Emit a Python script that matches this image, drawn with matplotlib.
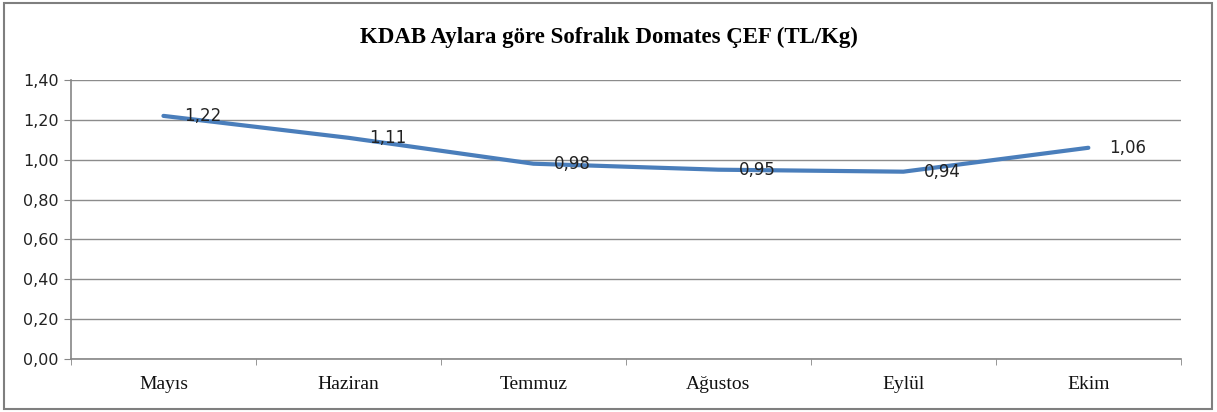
import matplotlib
matplotlib.use("Agg")
import matplotlib.pyplot as plt
from matplotlib.patches import Rectangle
import numpy as np

# data
months = ["Mayıs", "Haziran", "Temmuz", "Ağustos", "Eylül", "Ekim"]
cef_values = [1.22, 1.11, 0.98, 0.95, 0.94, 1.06]
y_ticks = [0.0, 0.2, 0.4, 0.6, 0.8, 1.0, 1.2, 1.4]

fig = plt.figure(figsize=(12.17, 4.12), dpi=100)
ax = fig.add_axes([0.0583, 0.1286, 0.912, 0.6772])

x = np.arange(len(months))
ax.plot(x, cef_values, color="#4A7EBB", linewidth=3.0, solid_capstyle="round", zorder=3)

for xi, val in zip(x, cef_values):
    ax.annotate(f"{val:.2f}".replace(".", ","), (xi, val), xytext=(15, 0),
                textcoords="offset points", ha="left", va="center",
                fontsize=12, family="DejaVu Sans", color="#222222", zorder=4)

ax.set_xlim(-0.5, len(months) - 0.5)
ax.set_ylim(0, 1.4)
ax.set_yticks(y_ticks)
ax.set_yticklabels([f"{t:.2f}".replace(".", ",") for t in y_ticks],
                   fontsize=11.5, family="DejaVu Sans", color="#222222")
ax.set_xticks(x)
ax.set_xticklabels(months, fontsize=14, family="Liberation Serif", color="#111111")
ax.set_xticks(np.arange(-0.5, len(months)), minor=True)
ax.tick_params(axis="x", which="major", length=0, pad=12)
ax.tick_params(axis="x", which="minor", length=4, color="#868686")
ax.tick_params(axis="y", length=5, color="#868686", pad=4)

ax.grid(axis="y", color="#8c8c8c", linewidth=1.0)
ax.set_axisbelow(True)
for side in ["top", "right"]:
    ax.spines[side].set_visible(False)
for side in ["left", "bottom"]:
    ax.spines[side].set_color("#868686")
    ax.spines[side].set_linewidth(1.2)

fig.text(0.5, 0.91, "KDAB Aylara göre Sofralık Domates ÇEF (TL/Kg)",
         ha="center", va="center", fontsize=16.5, fontweight="bold",
         family="Liberation Serif")

# outer chart border
fig.patches.append(Rectangle((0.003, 0.008), 0.993, 0.985, transform=fig.transFigure,
                             fill=False, edgecolor="#7f7f7f", linewidth=1.5))

plt.savefig("out.png", dpi=100)
plt.close()
